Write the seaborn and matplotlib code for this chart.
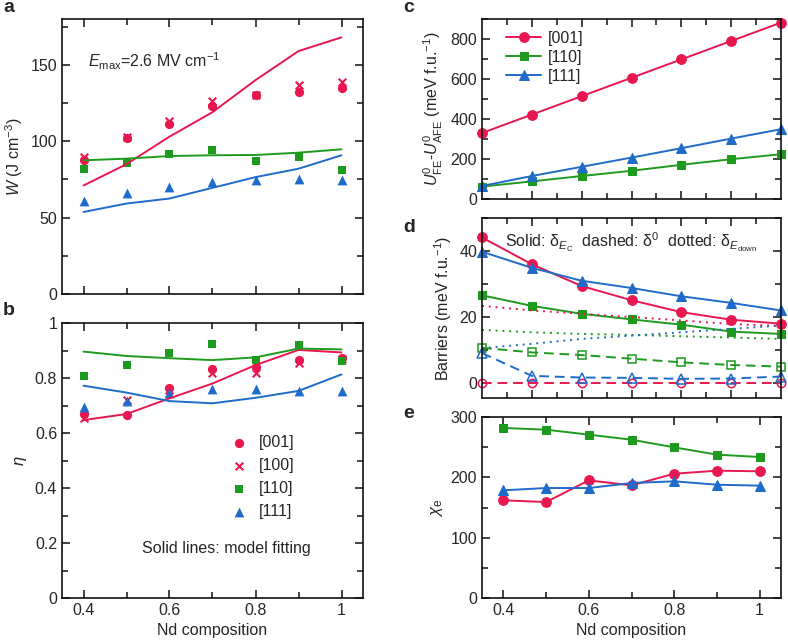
import numpy as np
import pandas as pd
import matplotlib
matplotlib.use("Agg")
import matplotlib.pyplot as plt
from matplotlib.ticker import MultipleLocator, FixedLocator, FuncFormatter
import seaborn as sns

# ---------------- data ----------------
nd = [0.4, 0.5, 0.6, 0.7, 0.8, 0.9, 1.0]
nd_calc = [0.35, 0.4667, 0.5833, 0.70, 0.8167, 0.9333, 1.05]

# panel a : W (J cm^-3)
W_001 = [87.5, 102, 111.6, 123, 130, 132, 134.6]
W_100 = [90, 102.5, 113, 126, 130.5, 137, 139]
W_110 = [81.6, 86, 91.4, 94.5, 87, 90, 81.4]
W_111 = [61, 66, 70, 73, 74.6, 75, 74.6]
W_fit_001 = [71, 85, 103, 119, 140, 159, 168]
W_fit_110 = [87.5, 88.6, 90.3, 90.8, 91, 92.5, 94.7]
W_fit_111 = [53.7, 59.2, 62.5, 69.5, 76.5, 82, 90.8]

# panel b : eta
eta_001 = [0.668, 0.665, 0.763, 0.832, 0.841, 0.865, 0.872]
eta_100 = [0.653, 0.72, 0.756, 0.817, 0.817, 0.856, 0.868]
eta_110 = [0.808, 0.847, 0.89, 0.924, 0.865, 0.919, 0.863]
eta_111 = [0.693, 0.716, 0.744, 0.761, 0.761, 0.753, 0.753]
eta_fit_001 = [0.647, 0.669, 0.726, 0.78, 0.847, 0.902, 0.893]
eta_fit_110 = [0.896, 0.88, 0.872, 0.865, 0.875, 0.907, 0.904]
eta_fit_111 = [0.772, 0.747, 0.716, 0.708, 0.728, 0.753, 0.813]

# panel c : U_FE - U_AFE (meV f.u.^-1)
U_001 = [330, 422, 514, 606, 698, 790, 882]
U_110 = [62, 88, 115, 141, 171, 199, 224]
U_111 = [65, 115, 161, 207, 254, 302, 349]

# panel d : barriers (meV f.u.^-1)
dEc_001 = [44.1, 36.0, 29.4, 25.1, 21.5, 19.2, 18.0]
dEc_110 = [26.6, 23.4, 21.0, 19.3, 17.7, 15.6, 14.9]
dEc_111 = [39.8, 34.9, 31.0, 28.8, 26.3, 24.3, 22.0]
d0_001 = [0, 0, 0, 0, 0, 0, 0]
d0_110 = [10.7, 9.3, 8.5, 7.4, 6.3, 5.5, 5.0]
d0_111 = [9.1, 2.2, 1.7, 1.6, 1.3, 1.4, 2.0]
dEd_001 = [23.4, 22.0, 21.0, 20.0, 19.0, 17.9, 17.3]
dEd_110 = [16.1, 15.4, 14.9, 14.6, 14.2, 13.8, 13.4]
dEd_111 = [10.6, 11.9, 13.4, 14.4, 15.4, 16.4, 17.5]

# panel e : chi_e
chi_001 = [161.9, 159, 195, 186.7, 206, 211, 210]
chi_110 = [281.8, 279, 270.7, 262.4, 249.7, 237.6, 233.7]
chi_111 = [178.5, 182.3, 182.3, 190.6, 193.4, 187.8, 186.2]

labels = ["[001]", "[100]", "[110]", "[111]"]

# ---------------- style ----------------
sns.set_style("ticks")
plt.rcParams["font.family"] = ["Liberation Sans", "DejaVu Sans"]
plt.rcParams["mathtext.fontset"] = "custom"
plt.rcParams["mathtext.rm"] = "Liberation Sans"
plt.rcParams["mathtext.it"] = "Liberation Sans:italic"
plt.rcParams["mathtext.bf"] = "Liberation Sans:bold"
plt.rcParams["font.size"] = 11
plt.rcParams["axes.linewidth"] = 1.2
plt.rcParams["axes.edgecolor"] = "#111111"

RED = "#e8174f"
GREEN = "#1e9a1e"
BLUE = "#1f6bc9"
LW = 1.4
FS = 11.5

fig = plt.figure(figsize=(7.88, 6.44), dpi=100)
W_, H_ = 788, 644


def rect(l, t, r, b):
    return [l / W_, 1 - b / H_, (r - l) / W_, (b - t) / H_]


ax_a = fig.add_axes(rect(62, 19, 363, 294))
ax_b = fig.add_axes(rect(62, 323, 363, 598))
ax_c = fig.add_axes(rect(482, 19, 781, 199))
ax_d = fig.add_axes(rect(482, 218, 781, 398))
ax_e = fig.add_axes(rect(482, 417, 781, 598))

fmt = FuncFormatter(lambda v, p: f"{v:g}")


def style_ax(ax, xmaj, xmin, ymaj, ymin, labels_x=True):
    ax.tick_params(direction="in", which="both", top=True, right=True,
                   labelsize=FS, width=1.1, color="#111111")
    ax.tick_params(which="major", length=6)
    ax.tick_params(which="minor", length=4)
    ax.xaxis.set_major_locator(FixedLocator(xmaj))
    ax.xaxis.set_minor_locator(FixedLocator(xmin))
    ax.yaxis.set_major_locator(MultipleLocator(ymaj))
    ax.yaxis.set_minor_locator(MultipleLocator(ymin))
    ax.yaxis.set_major_formatter(fmt)
    ax.xaxis.set_major_formatter(fmt)
    if not labels_x:
        ax.tick_params(axis="x", labelbottom=False)
    for s in ax.spines.values():
        s.set_visible(True)


MS = 44  # scatter size

# ---------- panel a ----------
ax = ax_a
sns.lineplot(x=nd, y=W_fit_001, color=RED, lw=LW, ax=ax)
sns.lineplot(x=nd, y=W_fit_110, color=GREEN, lw=LW, ax=ax)
sns.lineplot(x=nd, y=W_fit_111, color=BLUE, lw=LW, ax=ax)
sns.scatterplot(x=nd, y=W_100, color=RED, marker="x", s=30, linewidth=1.5, ax=ax)
sns.scatterplot(x=nd, y=W_001, color=RED, marker="o", s=MS, linewidth=0, ax=ax)
sns.scatterplot(x=nd, y=W_110, color=GREEN, marker="s", s=MS - 6, linewidth=0, ax=ax)
sns.scatterplot(x=nd, y=W_111, color=BLUE, marker="^", s=MS + 6, linewidth=0, ax=ax)
ax.set_xlim(0.35, 1.05)
ax.set_ylim(0, 180)
style_ax(ax, [0.4, 0.6, 0.8, 1.0], [0.5, 0.7, 0.9], 50, 25, labels_x=False)
ax.set_ylabel("$W$ (J cm$^{-3}$)", fontsize=FS)
ax.text(0.41, 152, "$E_{\\mathrm{max}}$=2.6 MV cm$^{-1}$", fontsize=FS,
        va="center", ha="left")

# ---------- panel b ----------
ax = ax_b
sns.lineplot(x=nd, y=eta_fit_001, color=RED, lw=LW, ax=ax)
sns.lineplot(x=nd, y=eta_fit_110, color=GREEN, lw=LW, ax=ax)
sns.lineplot(x=nd, y=eta_fit_111, color=BLUE, lw=LW, ax=ax)
sns.scatterplot(x=nd, y=eta_100, color=RED, marker="x", s=30, linewidth=1.5,
                ax=ax, label=labels[1])
sns.scatterplot(x=nd, y=eta_001, color=RED, marker="o", s=MS, linewidth=0,
                ax=ax, label=labels[0])
sns.scatterplot(x=nd, y=eta_110, color=GREEN, marker="s", s=MS - 6, linewidth=0,
                ax=ax, label=labels[2])
sns.scatterplot(x=nd, y=eta_111, color=BLUE, marker="^", s=MS + 6, linewidth=0,
                ax=ax, label=labels[3])
ax.set_xlim(0.35, 1.05)
ax.set_ylim(0, 1)
style_ax(ax, [0.4, 0.6, 0.8, 1.0], [0.5, 0.7, 0.9], 0.2, 0.1)
ax.set_ylabel("$\\eta$", fontsize=FS + 0.5)
ax.set_xlabel("Nd composition", fontsize=FS)
h, l = ax.get_legend_handles_labels()
order = [l.index(x) for x in labels]
ax.legend([h[i] for i in order], [l[i] for i in order], loc="center left",
          bbox_to_anchor=(0.515, 0.44), frameon=False, fontsize=FS,
          handletextpad=0.2, labelspacing=0.5, borderaxespad=0)
ax.text(0.535, 0.18, "Solid lines: model fitting", fontsize=FS,
        va="center", ha="left")

# ---------- panel c ----------
ax = ax_c
sns.lineplot(x=nd_calc, y=U_001, color=RED, lw=LW, marker="o", ms=7, mec=RED,
             ax=ax, label="[001]")
sns.lineplot(x=nd_calc, y=U_110, color=GREEN, lw=LW, marker="s", ms=6, mec=GREEN,
             ax=ax, label="[110]")
sns.lineplot(x=nd_calc, y=U_111, color=BLUE, lw=LW, marker="^", ms=7, mec=BLUE,
             ax=ax, label="[111]")
ax.set_xlim(0.35, 1.05)
ax.set_ylim(0, 900)
cmaj = nd_calc[1:-1]
cmin = [(a + b) / 2 for a, b in zip(nd_calc[:-1], nd_calc[1:])]
style_ax(ax, cmaj, cmin, 200, 100, labels_x=False)
ax.set_ylabel("$U^0_{\\mathrm{FE}}$-$U^0_{\\mathrm{AFE}}$ (meV f.u.$^{-1}$)",
              fontsize=FS)
ax.legend(loc="upper left", bbox_to_anchor=(0.06, 0.97), frameon=False,
          fontsize=FS, handlelength=2.2, handletextpad=0.4,
          labelspacing=0.25, borderaxespad=0)

# ---------- panel d ----------
ax = ax_d
for y, c, m, ms in [(dEc_001, RED, "o", 7), (dEc_110, GREEN, "s", 6),
                    (dEc_111, BLUE, "^", 7)]:
    sns.lineplot(x=nd_calc, y=y, color=c, lw=LW, marker=m, ms=ms, mec=c, ax=ax)
for y, c, m, ms in [(d0_001, RED, "o", 6), (d0_110, GREEN, "s", 5.5),
                    (d0_111, BLUE, "^", 6.5)]:
    sns.lineplot(x=nd_calc, y=y, color=c, lw=LW, marker=m, ms=ms, mec=c,
                 mfc="none", mew=1.1, linestyle=(0, (5, 3)), ax=ax)
for y, c in [(dEd_001, RED), (dEd_110, GREEN), (dEd_111, BLUE)]:
    sns.lineplot(x=nd_calc, y=y, color=c, lw=LW, linestyle=(0, (1, 2.5)), ax=ax)
ax.set_xlim(0.35, 1.05)
ax.set_ylim(-4.5, 50)
style_ax(ax, cmaj, cmin, 20, 10, labels_x=False)
ax.set_ylabel("Barriers (meV f.u.$^{-1}$)", fontsize=FS)
ax.text(0.405, 42.5,
        "Solid: δ$_{E_\\mathrm{C}}$  dashed: δ$^0$  dotted: "
        "δ$_{E_\\mathrm{down}}$",
        fontsize=FS, va="center", ha="left")

# ---------- panel e ----------
ax = ax_e
sns.lineplot(x=nd, y=chi_110, color=GREEN, lw=LW, marker="s", ms=6, mec=GREEN, ax=ax)
sns.lineplot(x=nd, y=chi_001, color=RED, lw=LW, marker="o", ms=7, mec=RED, ax=ax)
sns.lineplot(x=nd, y=chi_111, color=BLUE, lw=LW, marker="^", ms=7, mec=BLUE, ax=ax)
ax.set_xlim(0.35, 1.05)
ax.set_ylim(0, 300)
style_ax(ax, [0.4, 0.6, 0.8, 1.0], [0.5, 0.7, 0.9], 100, 50)
ax.set_ylabel("$\\chi_\\mathrm{e}$", fontsize=FS + 0.5)
ax.set_xlabel("Nd composition", fontsize=FS)

for a in [ax_a, ax_b, ax_c, ax_d, ax_e]:
    for ln in a.lines:
        ln.set_clip_on(False)
    for coll in a.collections:
        coll.set_clip_on(False)

# panel letters
for txt, x, y in [("a", 3, 8), ("b", 3, 310), ("c", 403, 8), ("d", 403, 228),
                  ("e", 403, 413)]:
    fig.text(x / W_, 1 - y / H_, txt, fontsize=14, fontweight="bold",
             va="center", ha="left")

fig.savefig("out.png", dpi=100)
